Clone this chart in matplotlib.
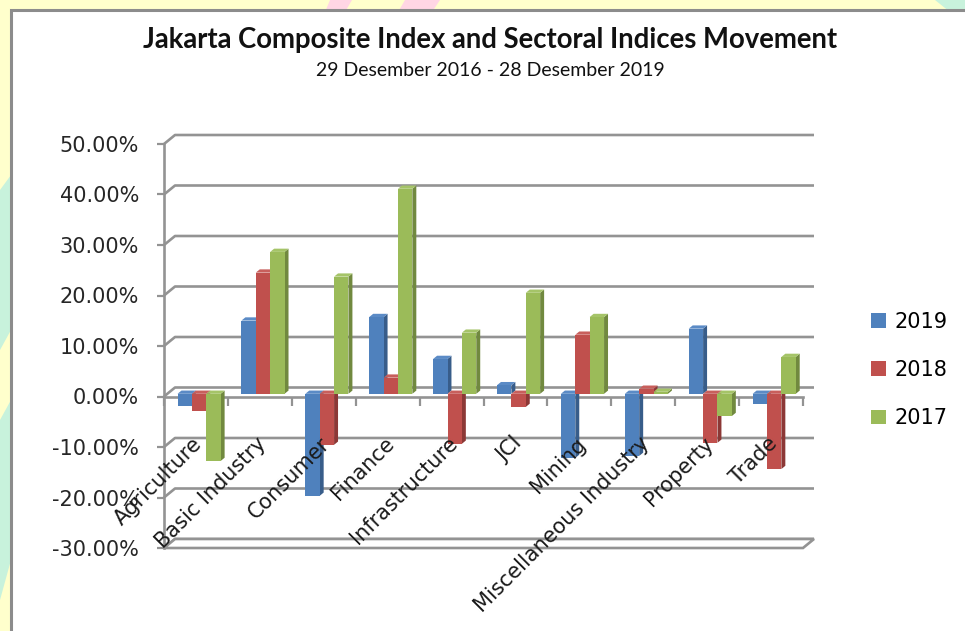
import matplotlib
matplotlib.use('Agg')
from matplotlib import pyplot as plt
import matplotlib.transforms as mtransforms
from matplotlib.patches import Polygon, Rectangle

# Sector returns (%) per year
categories = ['Agriculture', 'Basic Industry', 'Consumer', 'Finance', 'Infrastructure',
              'JCI', 'Mining', 'Miscellaneous Industry', 'Property', 'Trade']
years = ['2019', '2018', '2017']
ret_2019 = [-2.5, 14.5, -20.2, 15.2, 6.9, 1.7, -12.7, -12.3, 12.9, -2.0]
ret_2018 = [-3.4, 24.0, -10.1, 3.2, -9.9, -2.6, 11.7, 1.0, -9.7, -14.9]
ret_2017 = [-13.3, 28.1, 23.2, 40.6, 12.1, 20.0, 15.2, 0.4, -4.4, 7.3]
y_ticks = [-30, -20, -10, 0, 10, 20, 30, 40, 50]

series = [ret_2019, ret_2018, ret_2017]
front_colors = ['#4F81BD', '#C0504D', '#9BBB59']
side_colors = ['#385D8A', '#8C3836', '#71893F']
top_colors = ['#5B8BC6', '#C85F5C', '#A5C468']
grid_color = '#939393'

W, H = 965, 631
fig = plt.figure(figsize=(W / 100, H / 100), dpi=100)
fig.patch.set_facecolor('#FFFFCC')

# faint watermark bits peeking round the panel
for pts, col in [([(330, 0), (352, 0), (345, 12), (325, 12)], '#FFD6E4'),
                 ([(405, 0), (440, 0), (432, 12), (398, 12)], '#FFD6E4'),
                 ([(935, 0), (965, 0), (965, 12), (950, 12)], '#C8F2DC'),
                 ([(0, 190), (11, 175), (11, 330), (0, 350)], '#C8F2DC'),
                 ([(0, 420), (11, 400), (11, 560), (0, 600)], '#C8F2DC')]:
    fig.add_artist(Polygon([(x / W, 1 - y / H) for x, y in pts], closed=True,
                           transform=fig.transFigure, facecolor=col, lw=0, zorder=-1))

# white chart panel with grey border
fig.add_artist(Rectangle((11 / W, -0.1), 1.2, 1.1 - 10 / H, transform=fig.transFigure,
                         facecolor='white', edgecolor='#8C8C8C', linewidth=2.2, zorder=0))

# plot box in pixels: x 164..803, y 144..548
ax = fig.add_axes([164 / W, (H - 548) / H, (803 - 164) / W, (548 - 144) / H])
n = len(categories)
ax.set_xlim(0, n)
ax.set_ylim(y_ticks[0], y_ticks[-1])
ax.patch.set_visible(False)

# 3d depth offset (pixels) converted to data units
DX = 11 * n / (803 - 164)
DY = 9 * (y_ticks[-1] - y_ticks[0]) / (548 - 144)

# back wall gridlines + side wall slants
for v in y_ticks:
    ax.plot([0, DX, n + DX], [v, v + DY, v + DY], color=grid_color,
            lw=1.9, zorder=1, clip_on=False, solid_capstyle='butt')

# floor
lo = y_ticks[0]
ax.add_patch(Polygon([(0, lo), (n, lo), (n + DX, lo + DY), (DX, lo + DY)], closed=True,
                     facecolor='white', edgecolor=grid_color, lw=1.9, zorder=1, clip_on=False))

# bars
bar_w = 0.225
d0, dd = 0.3, 0.36
for j, vals in enumerate(series):
    xs = [i + 0.16 + j * bar_w + d0 * DX for i in range(n)]
    base = d0 * DY
    ax.bar(xs, vals, width=bar_w, bottom=base, align='edge', color=front_colors[j],
           label=years[j], zorder=4 + 2 * j, linewidth=0)
    for x, v in zip(xs, vals):
        xr = x + bar_w
        side = [(xr, base), (xr, base + v), (xr + dd * DX, base + v + dd * DY), (xr + dd * DX, base + dd * DY)]
        ytop = max(base, base + v)
        top = [(x, ytop), (xr, ytop), (xr + dd * DX, ytop + dd * DY), (x + dd * DX, ytop + dd * DY)]
        ax.add_patch(Polygon(side, closed=True, facecolor=side_colors[j], lw=0, zorder=3 + 2 * j, clip_on=False))
        ax.add_patch(Polygon(top, closed=True, facecolor=top_colors[j], lw=0, zorder=3 + 2 * j, clip_on=False))

# axes styling
for s in ['top', 'right']:
    ax.spines[s].set_visible(False)
for s in ['left', 'bottom']:
    ax.spines[s].set_color(grid_color)
    ax.spines[s].set_linewidth(1.9)
ax.spines['bottom'].set_position(('data', 0))
ax.set_yticks(y_ticks)
ax.set_yticklabels([f'{v:.2f}%' for v in y_ticks])
ax.tick_params(axis='y', direction='out', length=5, width=1.6, color=grid_color,
               labelsize=15, pad=13, labelcolor='#262626')
ax.set_xticks(range(n + 1))
ax.set_xticklabels([])
ax.tick_params(axis='x', direction='out', length=6.5, width=1.6, color=grid_color)

# category labels, rotated
lab_tr = ax.transData + mtransforms.ScaledTranslation(-4 / 100, -37 / 100, fig.dpi_scale_trans)
for i, c in enumerate(categories):
    ax.text(i + 0.5, 0, c, transform=lab_tr, rotation=45, rotation_mode='anchor',
            ha='right', va='top', fontsize=15, color='#1a1a1a', zorder=20)

# titles
fig.text(490 / W, 1 - 40 / H, 'Jakarta Composite Index and Sectoral Indices Movement',
         ha='center', va='center', fontsize=19.8, fontweight='bold',
         family=['Lato', 'DejaVu Sans'], color='#111111')
fig.text(490 / W, 1 - 71 / H, '29 Desember 2016 - 28 Desember 2019',
         ha='center', va='center', fontsize=14,
         family=['Lato', 'DejaVu Sans'], color='#111111')

# legend
ax.legend(loc='center left', bbox_to_anchor=(863 / W, 1 - 370 / H), bbox_transform=fig.transFigure,
          frameon=False, fontsize=15, handlelength=0.7, handleheight=0.7, handletextpad=0.4,
          labelspacing=1.35, borderaxespad=0)

fig.savefig('out.png', dpi=100, facecolor=fig.get_facecolor())
